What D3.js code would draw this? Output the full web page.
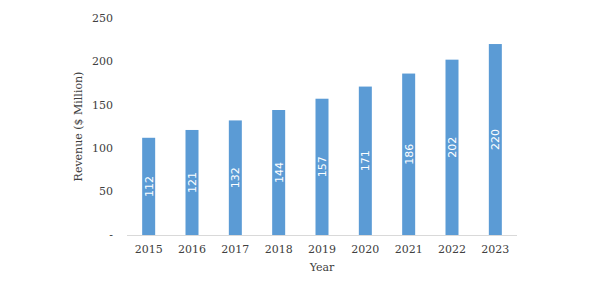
<!DOCTYPE html>
<html>
<head>
<meta charset="utf-8">
<script src="https://cdn.jsdelivr.net/npm/d3@7"></script>
<style>
  body { margin: 0; background: #fff; }
  svg { display: block; }
</style>
</head>
<body>
<svg width="595" height="297"></svg>
<script>
// данные графика
const years = ["2015", "2016", "2017", "2018", "2019", "2020", "2021", "2022", "2023"];
const revenue = [112, 121, 132, 144, 157, 171, 186, 202, 220];
const yTicks = [0, 50, 100, 150, 200, 250];

const svg = d3.select("svg");
const area = { left: 127, right: 517, top: 18, bottom: 235 };
const serif = "'DejaVu Serif', serif";

const scX = d3.scaleBand()
    .domain(years)
    .range([area.left, area.right])
    .paddingInner(0.7)
    .paddingOuter(0.35);

const scY = d3.scaleLinear()
    .domain([0, 250])
    .range([area.bottom, area.top]);

// подписи оси Y
svg.append("g")
    .selectAll("text")
    .data(yTicks)
    .enter()
    .append("text")
    .attr("x", 113)
    .attr("y", d => scY(d))
    .attr("dy", "0.35em")
    .attr("text-anchor", "end")
    .style("font-family", serif)
    .style("font-size", "11px")
    .style("fill", "#404040")
    .text(d => d === 0 ? "-" : d);

// столбцы
svg.selectAll(".bar")
    .data(revenue)
    .enter()
    .append("rect")
    .attr("class", "bar")
    .attr("x", (d, i) => scX(years[i]))
    .attr("y", d => scY(d))
    .attr("width", scX.bandwidth())
    .attr("height", d => scY(0) - scY(d))
    .style("fill", "#5B9BD5");

// ось X
svg.append("line")
    .attr("x1", area.left)
    .attr("x2", area.right)
    .attr("y1", scY(0) + 0.5)
    .attr("y2", scY(0) + 0.5)
    .style("stroke", "#d9d9d9");

// значения на столбцах
svg.selectAll(".lbl")
    .data(revenue)
    .enter()
    .append("text")
    .attr("transform", (d, i) => {
        const x = scX(years[i]) + scX.bandwidth() / 2;
        const y = (scY(d) + scY(0)) / 2;
        return `translate(${x},${y}) rotate(-90)`;
    })
    .attr("dy", "0.35em")
    .attr("text-anchor", "middle")
    .style("font-family", "'DejaVu Sans', sans-serif")
    .style("font-size", "11px")
    .style("fill", "#fff")
    .text(d => d);

// подписи оси X
svg.selectAll(".xlbl")
    .data(years)
    .enter()
    .append("text")
    .attr("x", d => scX(d) + scX.bandwidth() / 2)
    .attr("y", 249)
    .attr("dy", "0.35em")
    .attr("text-anchor", "middle")
    .style("font-family", serif)
    .style("font-size", "11px")
    .style("fill", "#404040")
    .text(d => d);

// названия осей
svg.append("text")
    .attr("x", (area.left + area.right) / 2)
    .attr("y", 267)
    .attr("dy", "0.35em")
    .attr("text-anchor", "middle")
    .style("font-family", serif)
    .style("font-size", "11px")
    .style("fill", "#404040")
    .text("Year");

svg.append("text")
    .attr("transform", `translate(78,${(area.top + area.bottom) / 2}) rotate(-90)`)
    .attr("dy", "0.35em")
    .attr("text-anchor", "middle")
    .style("font-family", serif)
    .style("font-size", "11px")
    .style("fill", "#404040")
    .text("Revenue ($ Million)");
</script>
</body>
</html>
